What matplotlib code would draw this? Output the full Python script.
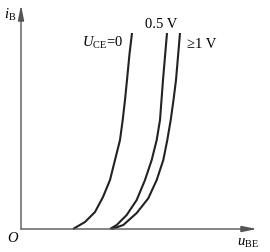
import matplotlib
matplotlib.use("Agg")
import matplotlib.pyplot as plt

plt.rcParams['mathtext.fontset'] = 'custom'
plt.rcParams['mathtext.rm'] = 'Liberation Serif'
plt.rcParams['mathtext.it'] = 'Liberation Serif:italic'
plt.rcParams['font.family'] = ['Liberation Serif', 'DejaVu Serif']

# input characteristic curves (arbitrary units, origin at O)
u_ce0 = [52, 64, 74, 82, 89, 94, 99, 101.7, 104, 106, 108.5, 111]
i_ce0 = [0, 7, 17, 32, 49, 69, 89, 109, 129, 149, 175, 196]
u_ce05 = [89, 95.7, 105.7, 115.7, 124, 130.7, 135.7, 139, 140.5, 142, 146]
i_ce05 = [0, 4, 14, 29, 49, 69, 89, 109, 129, 149, 196]
u_ce1 = [90.7, 102.3, 115.7, 127.3, 135.7, 142.3, 146.3, 149.7, 152.5, 155, 159]
i_ce1 = [0, 4, 16, 30.7, 49, 69, 89, 109, 129, 149, 196]

curve_labels = [r'$U_{\mathrm{CE}}\!=\!0$', '0.5 V', '≥1 V']

fig = plt.figure(figsize=(2.7, 2.52), dpi=100)
ax = fig.add_axes([0, 0, 1, 1])
ax.set_xlim(-21, 249)
ax.set_ylim(-23, 229)
ax.axis('off')

arrow = dict(arrowstyle='-|>,head_length=0.9,head_width=0.18', color='#555555',
             lw=1.0, shrinkA=0, shrinkB=0, mutation_scale=10)
ax.annotate('', xy=(0, 224), xytext=(0, 0), arrowprops=arrow)
ax.annotate('', xy=(236, 0), xytext=(0, 0), arrowprops=arrow)

for u, i in [(u_ce0, i_ce0), (u_ce05, i_ce05), (u_ce1, i_ce1)]:
    ax.plot(u, i, color='#222222', lw=1.5, solid_capstyle='butt',
            solid_joinstyle='round')

ax.text(-11, 214, r'$i_{\mathrm{B}}$', fontsize=10.5, ha='center', va='center')
ax.text(-8, -9, r'$O$', fontsize=10.5, ha='center', va='center')
ax.text(227, -14, r'$u_{\mathrm{BE}}$', fontsize=10.5, ha='center', va='center')
ax.text(82, 186, curve_labels[0], fontsize=10.5, ha='center', va='center')
ax.text(140, 204, curve_labels[1], fontsize=10.5, ha='center', va='center')
ax.text(181, 185, curve_labels[2], fontsize=10.5, ha='center', va='center')

fig.savefig('out.png', dpi=100)
